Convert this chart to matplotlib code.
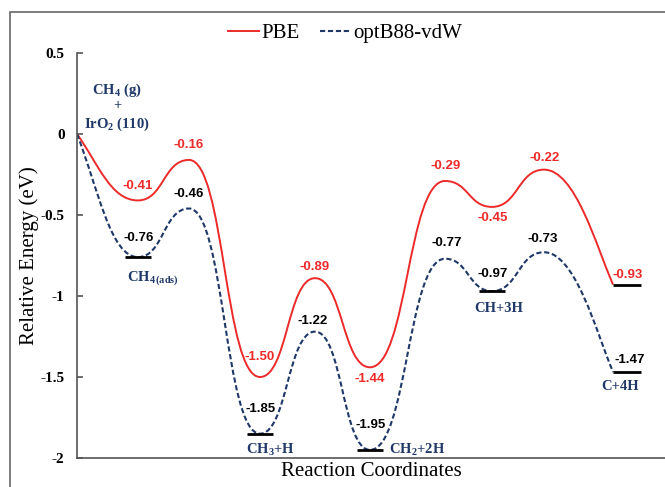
import matplotlib
matplotlib.use("Agg")
import matplotlib.pyplot as plt
from matplotlib.path import Path
from matplotlib.patches import PathPatch, Rectangle
from matplotlib.lines import Line2D

plt.rcParams['mathtext.fontset'] = 'custom'
plt.rcParams['mathtext.rm'] = 'Liberation Serif:bold'
plt.rcParams['mathtext.it'] = 'Liberation Serif:italic:bold'
plt.rcParams['mathtext.bf'] = 'Liberation Serif:bold'

# reaction coordinate of each state (start, min, TS, min, TS, ... , final)
x_states = [0, 6.1, 11.2, 18.3, 23.8, 29.3, 36.8, 41.5, 46.7, 53.6]
pbe = [0, -0.41, -0.16, -1.50, -0.89, -1.44, -0.29, -0.45, -0.22, -0.93]
vdw = [0, -0.76, -0.46, -1.85, -1.22, -1.95, -0.77, -0.97, -0.73, -1.47]

species = ['CH$_\\mathrm{4\\,(ads)}$', 'CH$_\\mathrm{3}$+H', 'CH$_\\mathrm{2}$+2H', 'CH+3H', 'C+4H']
species_idx = [1, 3, 5, 7, 9]

yticks = [0.5, 0, -0.5, -1, -1.5, -2]
ytick_labels = ['0.5', '0', '-0.5', '-1', '-1.5', '-2']

RED = '#ec2a2a'
NAVY = '#1f3868'
GREY = '#555555'


def energy_path(xs, ys):
    verts = [(xs[0], ys[0])]
    codes = [Path.MOVETO]
    n = len(xs)
    for i in range(n - 1):
        x0, y0, x1, y1 = xs[i], ys[i], xs[i + 1], ys[i + 1]
        dx = x1 - x0
        if i == 0:
            c1 = (x0 + 0.35 * dx, y0 + 0.45 * (y1 - y0))
            c2 = (x1 - 0.45 * dx, y1)
        elif i == n - 2:
            c1 = (x0 + 0.45 * dx, y0)
            c2 = (x1 - 0.25 * dx, y1 + 0.35 * (y0 - y1))
        else:
            c1 = (x0 + 0.5 * dx, y0)
            c2 = (x1 - 0.5 * dx, y1)
        verts += [c1, c2, (x1, y1)]
        codes += [Path.CURVE4] * 3
    return Path(verts, codes)


fig = plt.figure(figsize=(6.65, 4.87), dpi=100)
ax = fig.add_axes([77 / 665, 1 - 458 / 487, 1 - 77 / 665, (458 - 53) / 487])

ax.add_patch(PathPatch(energy_path(x_states, pbe), fill=False, edgecolor=RED, lw=1.4))
ax.add_patch(PathPatch(energy_path(x_states, vdw), fill=False, edgecolor=NAVY, lw=1.5,
                       linestyle=(0, (2.5, 1.3))))

# black level bars at the intermediates
for i in species_idx[:-1]:
    ax.plot([x_states[i] - 1.3, x_states[i] + 1.3], [vdw[i], vdw[i]], color='black', lw=2, solid_capstyle='butt')
for e in (pbe[-1], vdw[-1]):
    ax.plot([x_states[-1], x_states[-1] + 2.8], [e, e], color='black', lw=2, solid_capstyle='butt')

# value labels (offsets in pixels)
pbe_off = [None, (0, 14), (0, 15), (0, 20), (0, 11), (0, -12), (1, 15), (1, -11), (1, 12), (15, 10)]
vdw_off = [None, (1, 19), (0, 15), (1, 25), (-2, 11), (1, 25), (2, 16), (1, 17), (-1, 13), (17, 12)]
for i in range(1, len(x_states)):
    ax.annotate(f'{pbe[i]:.2f}', (x_states[i], pbe[i]), xytext=pbe_off[i], textcoords='offset pixels',
                ha='center', va='center', color=RED, fontsize=9.5, fontweight='bold', family='Liberation Sans')
    ax.annotate(f'{vdw[i]:.2f}', (x_states[i], vdw[i]), xytext=vdw_off[i], textcoords='offset pixels',
                ha='center', va='center', color='black', fontsize=9.5, fontweight='bold', family='Liberation Sans')

# species labels
sp_off = [(15, -21), (10, -16), (19, 0), (7, -17), (7, -14)]
sp_ha = ['center', 'center', 'left', 'center', 'center']
for name, i, off, ha in zip(species, species_idx, sp_off, sp_ha):
    ax.annotate(name, (x_states[i], vdw[i]), xytext=off, textcoords='offset pixels',
                ha=ha, va='center', color=NAVY, fontsize=10.5, family='Liberation Serif', fontweight='bold')

for txt, dy in [('CH$_\\mathrm{4}$ (g)', 44), ('+', 28), ('IrO$_\\mathrm{2}$ (110)', 10)]:
    ax.annotate(txt, (0, 0), xytext=(40, dy), textcoords='offset pixels', ha='center', va='center',
                color=NAVY, fontsize=10.5, family='Liberation Serif', fontweight='bold')

ax.set_xlim(0, 58.8)
ax.set_ylim(-2, 0.5)
ax.set_yticks(yticks)
ax.set_yticklabels(ytick_labels, family='Liberation Serif', fontweight='bold', fontsize=11)
ax.set_xticks([])
ax.tick_params(axis='y', direction='in', length=4, width=1.2, color=GREY, pad=9)
for s in ('top', 'right'):
    ax.spines[s].set_visible(False)
for s in ('left', 'bottom'):
    ax.spines[s].set_color(GREY)
    ax.spines[s].set_linewidth(1.2)
ax.set_ylabel('Relative Energy (eV)', family='Liberation Serif', fontsize=15, labelpad=1)
ax.set_xlabel('Reaction Coordinates', family='Liberation Serif', fontsize=15, labelpad=3)
ax.patch.set_visible(False)

handles = [Line2D([], [], color=RED, lw=1.4),
           Line2D([], [], color=NAVY, lw=1.5, linestyle=(0, (2.5, 1.3)))]
fig.legend(handles, ['PBE', 'optB88-vdW'], loc='center', bbox_to_anchor=(345 / 665, 1 - 33 / 487),
           ncol=2, frameon=False, prop={'family': 'Liberation Serif', 'size': 15},
           handlelength=1.5, handletextpad=0.1, columnspacing=1.0)

# outer frame of the figure
fig.patches.append(Rectangle((10 / 665, -0.1), 2, 1.1 - 12 / 487, transform=fig.transFigure,
                             fill=False, edgecolor='#666666', lw=1.2))

fig.savefig('out.png', dpi=100)
